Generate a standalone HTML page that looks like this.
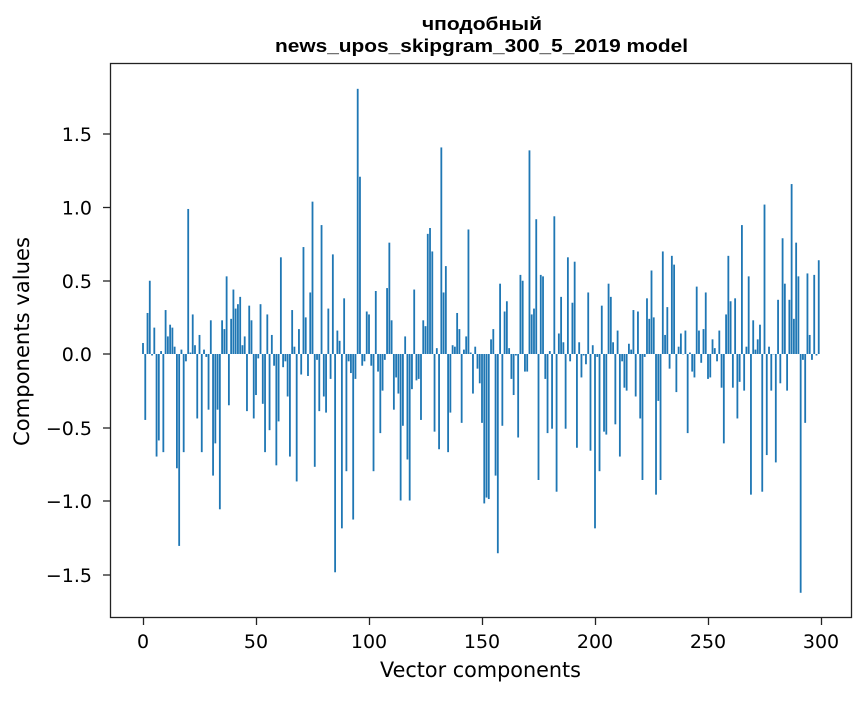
<!DOCTYPE html>
<html><head><meta charset="utf-8"><style>
body{margin:0;background:#fff;}
svg text{font-family:"DejaVu Sans","Liberation Sans",sans-serif;fill:#000;}
svg text.t{font-family:"Liberation Sans Narrow","Liberation Sans",sans-serif;font-weight:bold;}
</style></head><body>
<svg id="s" width="867" height="696" xmlns="http://www.w3.org/2000/svg">
<rect width="867" height="696" fill="#fff"/>
<text class="t" x="422" y="30" font-size="18" textLength="120" lengthAdjust="spacingAndGlyphs">чподобный</text>
<text class="t" x="275" y="52" font-size="18" textLength="413" lengthAdjust="spacingAndGlyphs">news_upos_skipgram_300_5_2019 model</text>
<g id="bars" fill="#1f77b4"></g>
<rect x="110.5" y="63.5" width="741" height="554" fill="none" stroke="#222" stroke-width="1.3"/>
<g id="ticks" stroke="#222" stroke-width="1.3"></g>
<g font-size="19" text-anchor="middle">
<text x="143" y="648">0</text><text x="256" y="648">50</text><text x="369" y="648">100</text>
<text x="482" y="648">150</text><text x="595" y="648">200</text><text x="708" y="648">250</text><text x="821" y="648">300</text>
</g>
<g font-size="19" text-anchor="end">
<text x="92" y="141">1.5</text><text x="92" y="214.5">1.0</text><text x="92" y="288">0.5</text>
<text x="92" y="361">0.0</text><text x="92" y="435">−0.5</text><text x="92" y="508">−1.0</text><text x="92" y="582">−1.5</text>
</g>
<text x="380" y="677" font-size="21" textLength="201" lengthAdjust="spacingAndGlyphs">Vector components</text>
<text transform="translate(29,446) rotate(-90)" font-size="21" textLength="209" lengthAdjust="spacingAndGlyphs">Components values</text>
</svg>
<script>
var v=[0.075,-0.45,0.28,0.50,-0.01,0.18,-0.70,-0.59,0.02,-0.67,0.30,0.12,0.20,0.18,0.05,-0.78,-1.31,0.03,-0.67,-0.05,0.99,0.01,0.27,0.06,-0.44,0.13,-0.67,0.03,-0.02,-0.38,0.23,-0.83,-0.61,-0.38,-1.06,0.23,0.17,0.53,-0.35,0.24,0.44,0.31,0.34,0.39,0.06,0.12,-0.39,0.33,0.23,-0.44,-0.28,-0.03,0.34,-0.34,-0.67,0.27,-0.52,0.13,-0.08,-0.76,-0.46,0.66,-0.09,-0.05,-0.29,-0.70,0.30,0.05,-0.87,0.17,-0.14,0.73,0.25,-0.15,0.42,1.04,-0.77,
-0.04,-0.39,0.88,-0.29,-0.40,0.31,-0.17,0.68,-1.49,0.16,0.09,-1.19,0.38,-0.80,-0.05,-0.13,-1.13,-0.17,1.81,1.21,-0.08,-0.05,0.29,0.27,-0.08,-0.80,0.43,-0.12,-0.54,-0.25,-0.04,0.45,0.76,0.23,-0.38,-0.16,-0.27,-1.00,-0.49,0.12,-0.72,-1.00,-0.24,0.44,-0.18,-0.17,-0.45,0.23,0.19,0.82,0.86,0.70,-0.53,0.04,-0.65,1.41,0.42,0.60,-0.67,-0.40,0.06,0.05,0.28,0.17,-0.47,0.03,0.12,0.85,0.01,-0.27,0.05,-0.10,-0.20,-0.47,-1.02,
-0.98,-0.99,0.10,0.17,-0.83,-1.36,0.48,-0.49,0.29,0.36,0.04,-0.17,-0.28,-0.01,-0.57,0.54,0.50,-0.12,-0.12,1.39,0.27,0.31,0.92,-0.86,0.54,0.53,-0.17,-0.54,0.02,-0.51,0.94,-0.94,0.14,0.39,0.08,-0.51,0.66,-0.05,0.35,0.63,-0.64,0.08,-0.16,-0.01,-0.07,0.42,-0.66,0.06,-1.19,-0.02,-0.80,0.33,-0.53,-0.55,0.48,0.39,0.08,-0.48,0.16,-0.70,-0.05,-0.23,-0.25,0.07,0.03,0.30,-0.29,0.29,-0.44,-0.86,-0.02,0.38,0.24,0.57,0.25,
-0.96,-0.32,-0.86,0.70,0.13,0.32,-0.10,0.67,0.61,-0.26,0.05,0.14,0.0,0.16,-0.54,0.01,-0.12,-0.16,0.46,0.16,-0.06,0.17,0.42,-0.17,-0.16,0.10,0.04,-0.05,0.16,-0.23,-0.61,0.27,0.67,0.36,-0.23,0.38,-0.44,-0.19,0.88,-0.25,0.05,0.53,-0.96,0.23,0.03,0.10,0.20,-0.94,1.02,-0.69,0.05,-0.25,0.0,-0.74,0.37,-0.20,0.79,0.48,-0.25,0.37,1.16,0.24,0.76,0.53,-1.63,-0.04,-0.47,0.55,0.13,-0.04,0.54,-0.01,0.64];
var g=document.getElementById('bars'),h='';
for(var i=0;i<v.length;i++){var x=143+2.26*i-0.9,y0=354,y1=354-146.5*v[i];var t=Math.min(y0,y1),hh=Math.max(Math.abs(y1-y0),0.3);
h+='<rect x="'+x.toFixed(2)+'" y="'+t.toFixed(2)+'" width="1.81" height="'+hh.toFixed(2)+'"/>';}
g.innerHTML=h;
var tk='';[143,256,369,482,595,708,821].forEach(function(x){tk+='<line x1="'+(x+0.5)+'" y1="618" x2="'+(x+0.5)+'" y2="625"/>';});
[134,207.5,281,354,428,501,575].forEach(function(y){tk+='<line x1="103" y1="'+y+'" x2="110" y2="'+y+'"/>';});
document.getElementById('ticks').innerHTML=tk;
</script>
</body></html>
